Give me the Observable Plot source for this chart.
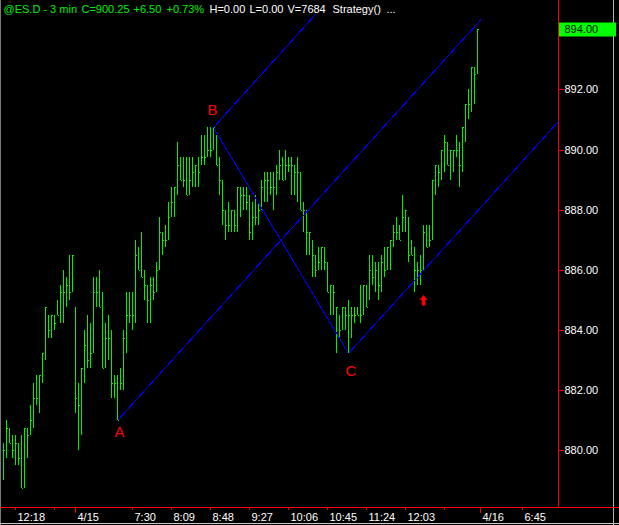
<!DOCTYPE html>
<html>
<head>
<meta charset="utf-8">
<script src="https://cdn.jsdelivr.net/npm/d3@7"></script>
<script src="https://cdn.jsdelivr.net/npm/@observablehq/plot@0.6"></script>
<style>
  html, body { margin: 0; padding: 0; background: #000; }
  #chart { width: 619px; height: 525px; overflow: hidden; }
  #chart svg { display: block; }
</style>
</head>
<body>
<div id="chart"></div>
<script>
// ES 3-minute bars (high / low / close), one entry per bar, oldest first
const highs = [
  880.25, 881.0, 880.75, 880.5, 880.5, 880.25, 880.5, 880.75, 880.75, 881.5,
  882.25, 882.5, 882.5, 883.25, 884.75, 884.5, 884.5, 884.5, 885.0, 885.5,
  886.0, 885.75, 886.5, 886.5, 884.75, 882.25, 882.75, 884.0, 884.5, 884.25,
  885.75, 885.75, 886.0, 885.25, 884.25, 884.5, 884.0, 882.5, 882.5, 882.75,
  884.0, 885.25, 885.25, 885.25, 887.0, 886.75, 887.25, 886.0, 885.5, 885.75,
  885.75, 886.25, 887.75, 887.25, 887.5, 888.25, 888.75, 888.75, 890.25, 889.75,
  889.75, 889.75, 889.75, 889.75, 889.5, 889.75, 890.5, 890.5, 890.75, 890.75,
  890.75, 890.5, 889.75, 889.0, 888.0, 888.25, 888.0, 888.0, 888.75, 888.75,
  888.75, 888.75, 888.5, 888.25, 888.5, 888.25, 889.0, 889.25, 889.25, 889.25,
  889.25, 889.5, 890.0, 889.75, 890.0, 889.75, 889.75, 889.5, 889.75, 889.25,
  888.25, 888.0, 887.25, 887.0, 886.5, 886.75, 886.75, 886.75, 886.25, 885.5,
  885.5, 884.75, 884.5, 884.75, 884.75, 885.0, 884.75, 884.75, 884.75, 885.5,
  885.5, 885.5, 886.5, 886.5, 886.25, 886.25, 886.5, 886.75, 886.75, 887.0,
  887.5, 887.75, 887.5, 888.5, 888.0, 887.75, 887.0, 886.75, 886.25, 886.5,
  887.5, 887.5, 887.5, 889.0, 889.5, 889.5, 890.0, 890.5, 890.25, 890.0,
  890.0, 890.5, 890.25, 890.75, 891.5, 892.0, 892.75, 892.75, 894.0
];
const lows = [
  879.0, 879.75, 880.25, 879.75, 879.5, 879.5, 878.75, 878.75, 879.75, 880.5,
  880.75, 881.5, 881.25, 882.25, 883.0, 883.75, 883.75, 884.0, 884.5, 884.25,
  884.25, 884.75, 885.0, 885.25, 881.25, 880.0, 880.5, 882.25, 882.75, 882.75,
  883.25, 884.75, 884.75, 882.75, 882.75, 883.0, 881.75, 881.75, 881.0, 882.0,
  882.0, 883.25, 884.25, 884.0, 884.25, 886.0, 885.75, 885.0, 884.25, 884.25,
  885.0, 885.25, 886.0, 886.5, 886.75, 887.0, 887.75, 887.75, 888.5, 889.0,
  888.75, 888.5, 888.5, 888.75, 888.75, 888.75, 889.5, 889.5, 889.75, 889.75,
  890.0, 889.5, 888.5, 887.5, 887.0, 887.25, 887.25, 887.25, 887.25, 887.75,
  888.0, 888.0, 887.0, 887.0, 887.5, 887.5, 888.0, 888.25, 888.25, 888.5,
  888.0, 888.5, 889.0, 889.0, 889.0, 889.25, 888.5, 888.5, 888.25, 888.0,
  887.25, 886.5, 886.5, 885.75, 885.75, 886.0, 886.0, 886.0, 885.25, 884.5,
  884.5, 883.25, 883.75, 884.0, 884.0, 883.25, 883.75, 884.25, 884.5, 884.25,
  884.5, 884.75, 885.0, 885.5, 885.25, 885.0, 885.25, 885.75, 886.0, 886.0,
  886.75, 887.0, 887.0, 887.25, 887.25, 886.25, 886.5, 885.25, 885.5, 885.5,
  886.0, 886.75, 886.75, 887.0, 888.5, 888.75, 889.0, 889.25, 889.5, 889.0,
  889.25, 889.75, 888.75, 889.25, 890.25, 891.0, 891.25, 891.5, 892.5
];
const closes = [
  880.0, 880.75, 880.25, 880.0, 880.25, 879.75, 878.75, 880.75, 880.5, 881.0,
  881.75, 881.75, 882.5, 883.25, 884.75, 884.0, 884.5, 884.25, 884.5, 885.25,
  885.25, 885.5, 885.25, 886.5, 881.75, 881.5, 882.75, 883.5, 883.0, 883.25,
  885.25, 885.25, 884.75, 882.75, 883.75, 883.75, 882.25, 882.25, 881.0, 882.25,
  883.75, 884.5, 884.5, 884.5, 886.5, 886.0, 885.75, 885.5, 885.0, 885.5,
  885.25, 886.0, 887.25, 887.0, 887.0, 887.75, 888.25, 888.75, 889.5, 889.0,
  889.0, 888.5, 889.0, 889.25, 889.5, 889.25, 889.75, 889.75, 890.0, 890.0,
  890.75, 889.5, 889.0, 888.0, 887.5, 887.5, 888.0, 887.5, 888.75, 888.5,
  888.5, 888.25, 887.25, 887.75, 887.75, 888.0, 888.75, 889.0, 889.0, 888.75,
  888.75, 889.25, 889.5, 889.0, 889.5, 889.5, 889.5, 889.25, 889.25, 888.0,
  888.0, 887.25, 887.25, 886.5, 886.0, 886.25, 886.75, 886.25, 885.25, 885.5,
  885.25, 884.75, 884.0, 884.75, 884.5, 884.5, 884.5, 884.5, 884.5, 884.5,
  885.5, 884.75, 886.0, 885.75, 886.0, 885.5, 886.25, 886.0, 886.75, 887.0,
  887.25, 887.25, 887.0, 887.75, 888.0, 886.5, 886.5, 886.0, 886.0, 886.0,
  887.25, 886.75, 887.0, 889.0, 889.5, 889.25, 890.0, 890.25, 889.5, 890.0,
  890.0, 890.0, 889.5, 890.75, 891.5, 891.5, 892.75, 892.5, 894.0
];

// Price axis ticks
const priceTicks = [880, 882, 884, 886, 888, 890, 892];

// Time axis: bar index of each tick and its label ("" = unlabeled tick)
const timeTickIdx = [4, 17, 43, 56, 69, 82, 95, 108, 121, 134, 147, 173];
const timeTickText = ["12:18", "", "7:30", "8:09", "8:48", "9:27", "10:06", "10:45", "11:24", "12:03", "", "6:45"];
const dayTickIdx = [24, 159];
const dayTickText = ["4/15", "4/16"];

// Andrews pitchfork pivots (bar index) and the bar index where each tine stops
const pivotNames = ["A", "B", "C"];
const pivotBars = [38, 70, 115];
const tineEnds = [159.2, 104.3, 185];

// Signal arrow
const signalBars = [140];
const signalPrices = [885.0];

// Status line
const statusGreen = ["@ES.D - 3 min", "C=900.25", "+6.50", "+0.73%"];
const statusWhite = ["H=0.00", "L=0.00", "V=7684", "Strategy()", "..."];

// ---------------------------------------------------------------
const GREEN = "#00f000";
const bars = highs.map((h, i) => ({i, high: h, low: lows[i], close: closes[i]}));
const last = bars[bars.length - 1];

const A = {name: pivotNames[0], i: pivotBars[0], price: lows[pivotBars[0]]};
const B = {name: pivotNames[1], i: pivotBars[1], price: highs[pivotBars[1]]};
const C = {name: pivotNames[2], i: pivotBars[2], price: lows[pivotBars[2]]};
const mid = {i: (B.i + C.i) / 2, price: (B.price + C.price) / 2};
const slope = (mid.price - A.price) / (mid.i - A.i);
const tine = (p, end) => ({x1: p.i, y1: p.price, x2: end, y2: p.price + slope * (end - p.i)});
const fork = [
  tine(A, tineEnds[0]),
  tine(B, tineEnds[1]),
  tine(C, tineEnds[2]),
  {x1: B.i, y1: B.price, x2: C.i, y2: C.price}
];

const timeLabels = new Map([
  ...timeTickIdx.map((d, k) => [d, timeTickText[k]]),
  ...dayTickIdx.map((d, k) => [d, dayTickText[k]])
]);
const labelIdx = [...timeLabels.keys()].filter(k => timeLabels.get(k) !== "");

const signals = signalBars.map((i, k) => ({i, price: signalPrices[k]}));

// Filled up arrow used for the signal marker
const upArrow = {
  draw(ctx) {
    ctx.moveTo(0, -5.5);
    ctx.lineTo(4, -0.5);
    ctx.lineTo(1.8, -0.5);
    ctx.lineTo(1.8, 5);
    ctx.lineTo(-1.8, 5);
    ctx.lineTo(-1.8, -0.5);
    ctx.lineTo(-4, -0.5);
    ctx.closePath();
  }
};
// Box behind the last-price label on the price axis
const priceBox = {
  draw(ctx) {
    ctx.moveTo(0.5, -7);
    ctx.lineTo(57.5, -7);
    ctx.lineTo(57.5, 7);
    ctx.lineTo(0.5, 7);
    ctx.closePath();
  }
};

// Red axis lines plus the window edges
function chartFrame(index, scales, values, dim) {
  const {width, height, marginRight, marginBottom} = dim;
  const g = d3.create("svg:g");
  const xr = width - marginRight + 0.5;
  const yb = height - marginBottom + 0.5;
  g.append("line").attr("x1", 0.5).attr("x2", 0.5).attr("y1", 0).attr("y2", height).attr("stroke", "#7a7a7a");
  g.append("line").attr("x1", 0).attr("x2", width).attr("y1", height - 1.5).attr("y2", height - 1.5).attr("stroke", "#c8c8c8");
  g.append("line").attr("x1", width - 5.5).attr("x2", width - 5.5).attr("y1", 0).attr("y2", height).attr("stroke", "#b0b0b0");
  g.append("line").attr("x1", xr).attr("x2", xr).attr("y1", 0).attr("y2", yb).attr("stroke", "#ff0000");
  g.append("line").attr("x1", 0).attr("x2", width).attr("y1", yb).attr("y2", yb).attr("stroke", "#ff0000");
  return g.node();
}

const statusX = {green: [3, 81, 133, 166], white: [209, 249, 287, 332, 386]};
const statusMarks = [
  ...statusGreen.map((t, k) => Plot.text([t], {
    text: d => d, frameAnchor: "top-left", dx: statusX.green[k], dy: 12,
    lineAnchor: "bottom", textAnchor: "start", fill: GREEN, fontSize: 11
  })),
  ...statusWhite.map((t, k) => Plot.text([t], {
    text: d => d, frameAnchor: "top-left", dx: statusX.white[k], dy: 12,
    lineAnchor: "bottom", textAnchor: "start", fill: "#ffffff", fontSize: 11
  }))
];

const chart = Plot.plot({
  width: 619,
  height: 525,
  marginLeft: 0,
  marginRight: 61,
  marginTop: 0,
  marginBottom: 18,
  style: {
    background: "#000000",
    color: "#ffffff",
    fontFamily: "'Liberation Sans', Arial, sans-serif",
    fontSize: "11px"
  },
  x: {type: "linear", domain: [0, 173], range: [3, 522]},
  y: {type: "linear", domain: [880, 894], range: [450.4, 29.2], round: true},
  marks: [
    chartFrame,
    // HLC bars
    Plot.ruleX(bars, {x: "i", y1: "low", y2: "high", stroke: GREEN, shapeRendering: "crispEdges"}),
    Plot.ruleY(bars, {y: "close", x1: d => d.i + 1 / 6, x2: d => d.i + 2 / 3, stroke: GREEN, shapeRendering: "crispEdges"}),
    // pitchfork
    Plot.link(fork, {x1: "x1", y1: "y1", x2: "x2", y2: "y2", stroke: "#0000ff", strokeWidth: 1, shapeRendering: "crispEdges"}),
    // pivot labels
    Plot.text([A], {x: "i", y: "price", text: "name", fill: "#ff0000", fontSize: 15, lineAnchor: "top", dx: 2, dy: 6}),
    Plot.text([B], {x: "i", y: "price", text: "name", fill: "#ff0000", fontSize: 15, lineAnchor: "bottom", dx: -1, dy: -13}),
    Plot.text([C], {x: "i", y: "price", text: "name", fill: "#ff0000", fontSize: 15, lineAnchor: "top", dx: 2.5, dy: 12}),
    // signal arrow
    Plot.dot(signals, {x: "i", y: "price", symbol: upArrow, fill: "#ff0000", stroke: null, r: 5}),
    // price axis
    Plot.axisY({ticks: priceTicks, anchor: "right", tickSize: 5, text: null, stroke: "#ff0000", label: null}),
    Plot.axisY({ticks: priceTicks, anchor: "right", tickSize: 0, tickPadding: 6, tickFormat: d3.format(".2f"), fill: "#ffffff", label: null, fontSize: 11}),
    Plot.dot([last], {y: "close", frameAnchor: "right", symbol: priceBox, fill: "#00ff00", stroke: null, r: 5}),
    Plot.text([last], {y: "close", frameAnchor: "right", dx: 6, textAnchor: "start", text: d => d.close.toFixed(2), fill: "#000000", fontSize: 11}),
    // time axis
    Plot.axisX({ticks: timeTickIdx, anchor: "bottom", tickSize: 3, text: null, stroke: "#ff0000", label: null}),
    Plot.axisX({ticks: dayTickIdx, anchor: "bottom", tickSize: 6, text: null, stroke: "#ff0000", label: null}),
    Plot.axisX({ticks: labelIdx, anchor: "bottom", tickSize: 0, tickPadding: 6, tickFormat: d => timeLabels.get(d), textAnchor: "start", dx: 2, fill: "#ffffff", label: null, fontSize: 11}),
    // status line
    ...statusMarks
  ]
});

document.getElementById("chart").append(chart);
</script>
</body>
</html>
